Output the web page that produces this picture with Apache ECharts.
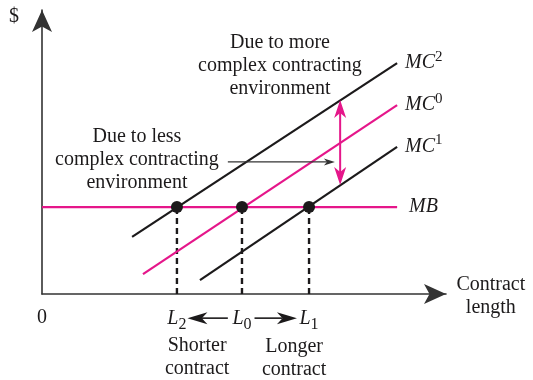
<!DOCTYPE html>
<html>
<head>
<meta charset="utf-8">
<script src="https://cdn.jsdelivr.net/npm/echarts@6/dist/echarts.min.js"></script>
<style>html,body{margin:0;padding:0;background:#fff;}#c{width:533px;height:380px;}</style>
</head>
<body>
<div id="c"></div>
<script>
// ---- data (axis units: x 0..10, y 0..10) ----
const xTickValues = [0, 3.34, 4.95, 6.61];
const xTickLabels = ['0', 'L2', 'L0', 'L1'];
const mbLevel = 3.06;
const mbRange = [0, 8.79];
const mc2Points = [[2.23, 2.01], [8.79, 8.13]];
const mc0Points = [[2.50, 0.70], [8.79, 6.65]];
const mc1Points = [[3.91, 0.49], [8.79, 5.18]];
const curveNames = ['MC2', 'MC0', 'MC1'];
const optimumPoints = [[3.34, 3.06], [4.95, 3.06], [6.61, 3.06]];

const PINK = '#e5168a';
const INK = '#1c1a1b';
const SERIF = '"Liberation Serif", "Times New Roman", serif';

const richTick = {
  n: {fontSize: 20, fontFamily: SERIF, color: INK, lineHeight: 28, verticalAlign: 'middle'},
  i: {fontSize: 20, fontFamily: SERIF, fontStyle: 'italic', color: INK, lineHeight: 28, verticalAlign: 'middle'},
  s: {fontSize: 16, fontFamily: SERIF, color: INK, lineHeight: 29, verticalAlign: 'bottom'}
};
const richSup = {
  i: {fontSize: 20, fontFamily: SERIF, fontStyle: 'italic', color: INK, lineHeight: 28, verticalAlign: 'middle'},
  p: {fontSize: 15, fontFamily: SERIF, color: INK, lineHeight: 28, verticalAlign: 'top'}
};

function tickFormatter(value) {
  const k = xTickValues.indexOf(value);
  const t = k >= 0 ? xTickLabels[k] : '';
  if (t.length === 2) return '{i|' + t[0] + '}{s|' + t[1] + '}';
  return '{n|' + t + '}';
}
function mcLabel(name) {
  return '{i|' + name.slice(0, 2) + '}{p|' + name.slice(2) + '}';
}

function lineSeries(points, color, labelText) {
  return {
    type: 'line', data: points, showSymbol: false, silent: true, animation: false,
    lineStyle: {color: color, width: 2.2}, z: 3,
    endLabel: {show: true, distance: 8, formatter: () => labelText, rich: richSup}
  };
}

const dropSeries = optimumPoints.map(p => ({
  type: 'line', data: [[p[0], 0], p], showSymbol: false, silent: true, animation: false,
  lineStyle: {color: INK, width: 2.4, type: [6, 4]}, z: 2
}));

function arrowShapes(a, b, color, lw, headLen, headW) {
  const dx = b[0] - a[0], dy = b[1] - a[1];
  const L = Math.hypot(dx, dy);
  const ux = dx / L, uy = dy / L, nx = -uy, ny = ux;
  const back = [b[0] - ux * headLen, b[1] - uy * headLen];
  const inner = [b[0] - ux * headLen * 0.72, b[1] - uy * headLen * 0.72];
  return [
    {type: 'line', shape: {x1: a[0], y1: a[1], x2: inner[0], y2: inner[1]}, style: {stroke: color, lineWidth: lw}},
    {type: 'polygon', shape: {points: [b, [back[0] + nx * headW / 2, back[1] + ny * headW / 2], inner, [back[0] - nx * headW / 2, back[1] - ny * headW / 2]]}, style: {fill: color}}
  ];
}

const textBlocks = [
  {at: [-0.69, 9.75], text: '$'},
  {at: [5.89, 8.03], text: 'Due to more\ncomplex contracting\nenvironment'},
  {at: [2.35, 4.72], text: 'Due to less\ncomplex contracting\nenvironment'},
  {at: [11.11, -0.07], text: 'Contract\nlength'},
  {at: [3.84, -2.22], text: 'Shorter\ncontract'},
  {at: [6.24, -2.25], text: 'Longer\ncontract'}
];

const chart = echarts.init(document.getElementById('c'), null, {renderer: 'canvas'});
chart.setOption({
  backgroundColor: '#ffffff',
  animation: false,
  grid: {left: 42, right: 87, top: 10, bottom: 86, containLabel: false},
  xAxis: {
    type: 'value', min: 0, max: 10,
    splitLine: {show: false}, axisTick: {show: false},
    axisLine: {show: true, onZero: false, symbol: ['none', 'arrow'], symbolSize: [15, 22], lineStyle: {color: '#333', width: 1.6}},
    axisLabel: {show: true, customValues: xTickValues, margin: 10, formatter: tickFormatter, rich: richTick}
  },
  yAxis: {
    type: 'value', min: 0, max: 10,
    splitLine: {show: false}, axisTick: {show: false}, axisLabel: {show: false},
    axisLine: {show: true, onZero: false, symbol: ['none', 'arrow'], symbolSize: [15, 22], lineStyle: {color: '#333', width: 1.6}}
  },
  series: [
    {
      type: 'line', data: [[mbRange[0], mbLevel], [mbRange[1], mbLevel]], showSymbol: false, silent: true,
      lineStyle: {color: PINK, width: 2.2}, z: 3,
      endLabel: {show: true, distance: 12, formatter: () => '{i|MB}', rich: richSup}
    },
    lineSeries(mc2Points, INK, mcLabel(curveNames[0])),
    lineSeries(mc0Points, PINK, mcLabel(curveNames[1])),
    lineSeries(mc1Points, INK, mcLabel(curveNames[2])),
    ...dropSeries,
    {type: 'scatter', data: optimumPoints, symbolSize: 12, itemStyle: {color: INK, opacity: 1}, z: 5, silent: true},
    {
      type: 'custom', data: [[0, 0]], silent: true, z: 6, clip: false,
      renderItem: function (params, api) {
        const c = p => api.coord(p);
        const children = [];
        textBlocks.forEach(t => {
          const p = c(t.at);
          children.push({type: 'text', x: p[0], y: p[1], style: {
            text: t.text, fill: INK, font: '20px ' + SERIF, align: 'center', verticalAlign: 'middle', lineHeight: 23}});
        });
        children.push(...arrowShapes(c([7.38, 5.3]), c([7.38, 6.83]), PINK, 2, 18, 12));
        children.push(...arrowShapes(c([7.38, 5.3]), c([7.38, 3.84]), PINK, 2, 18, 12));
        children.push(...arrowShapes(c([4.60, 4.65]), c([7.25, 4.65]), '#333', 1.3, 11, 7));
        children.push(...arrowShapes(c([4.60, -0.85]), c([3.60, -0.85]), INK, 1.6, 20, 12));
        children.push(...arrowShapes(c([5.26, -0.85]), c([6.31, -0.85]), INK, 1.6, 20, 12));
        return {type: 'group', children: children};
      }
    }
  ]
});
</script>
</body>
</html>
